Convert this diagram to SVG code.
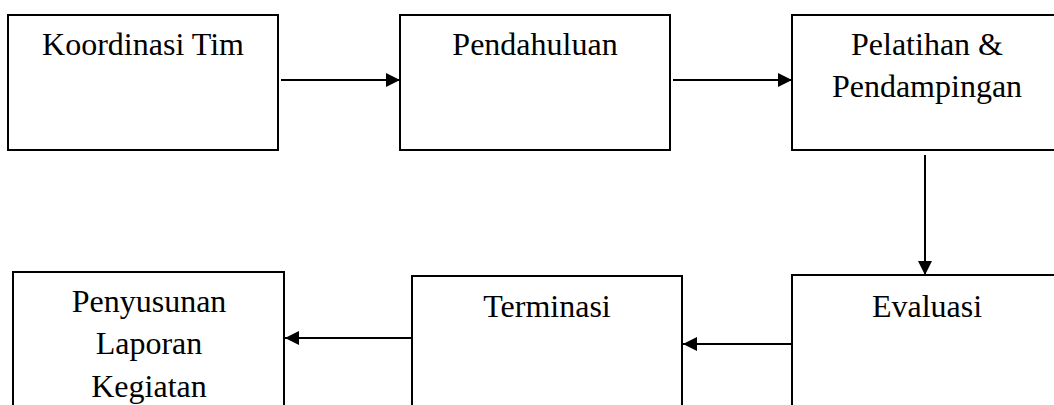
<svg xmlns="http://www.w3.org/2000/svg" width="1054" height="405" viewBox="0 0 1054 405">
<defs>
<style>
.box{fill:#fff;stroke:#000;stroke-width:2}
.lbl{font-family:"Liberation Serif","Times New Roman",serif;font-size:32px;fill:#000;text-anchor:middle}
.con{stroke:#000;stroke-width:2;fill:none;marker-end:url(#ah)}
</style>
<marker id="ah" viewBox="0 0 14 14" refX="14" refY="7" markerWidth="14" markerHeight="14" markerUnits="userSpaceOnUse" orient="auto">
<path d="M0,0 L14,7 L0,14 Z" fill="#000"/>
</marker>
</defs>
<rect width="1054" height="405" fill="#fff"/>
<g id="n1"><rect class="box" x="8" y="15" width="270" height="135"/><text class="lbl" x="143" y="55">Koordinasi Tim</text></g>
<g id="n2"><rect class="box" x="400" y="15" width="270" height="135"/><text class="lbl" x="535" y="55">Pendahuluan</text></g>
<g id="n3"><rect class="box" x="792" y="15" width="270" height="135"/><text class="lbl" x="927" y="55">Pelatihan &amp;</text><text class="lbl" x="927" y="97">Pendampingan</text></g>
<g id="n4"><rect class="box" x="792" y="275" width="270" height="140"/><text class="lbl" x="927" y="317">Evaluasi</text></g>
<g id="n5"><rect class="box" x="412" y="276" width="270" height="140"/><text class="lbl" x="547" y="317">Terminasi</text></g>
<g id="n6"><rect class="box" x="13" y="272" width="271" height="145"/><text class="lbl" x="149" y="312">Penyusunan</text><text class="lbl" x="149" y="354">Laporan</text><text class="lbl" x="149" y="397">Kegiatan</text></g>
<g id="connectors">
<line class="con" x1="281" y1="80" x2="400" y2="80"/>
<line class="con" x1="673" y1="80" x2="792" y2="80"/>
<line class="con" x1="925" y1="155" x2="925" y2="275"/>
<line class="con" x1="792" y1="344" x2="683" y2="344"/>
<line class="con" x1="412" y1="338" x2="285" y2="338"/>
</g>
</svg>
